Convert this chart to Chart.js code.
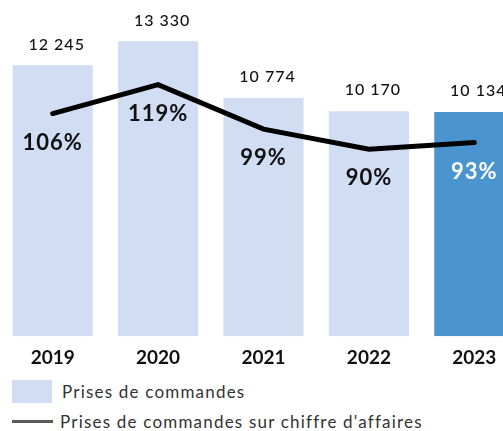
<!DOCTYPE html>
<html lang="fr">
<head>
    <meta charset="UTF-8">
    <title>Prises de commandes</title>
    <script src="https://cdn.jsdelivr.net/npm/chart.js@4.4.0/dist/chart.umd.min.js"></script>
    <style>
        body {
            margin: 0;
            padding: 0;
            width: 503px;
            height: 431px;
            overflow: hidden;
            background: #fff;
            font-family: 'Lato', 'Open Sans', sans-serif;
            position: relative;
        }
        #chart {
            position: absolute;
            left: 0;
            top: 0;
        }
        .legend-row {
            position: absolute;
            left: 12px;
            display: flex;
            align-items: center;
            font-size: 17px;
            letter-spacing: 1.2px;
            color: #333;
        }
        .swatch-bar {
            width: 40px;
            height: 23px;
            background: #d0ddf3;
            margin-right: 10px;
        }
        .swatch-line {
            width: 41px;
            height: 3px;
            background: #5a5a5a;
            margin-right: 7px;
        }
    </style>
</head>
<body>
    <canvas id="chart" width="527" height="379"></canvas>
    <div class="legend-row" style="top: 380px;"><span class="swatch-bar"></span>Prises de commandes</div>
    <div class="legend-row" style="top: 411px;"><span class="swatch-line"></span>Prises de commandes sur chiffre d'affaires</div>

    <script>
        // data
        const years = ['2019', '2020', '2021', '2022', '2023'];
        const orders = [12245, 13330, 10774, 10170, 10134];
        const ratio = [106, 119, 99, 90, 93];
        const barColors = ['#d0ddf3', '#d0ddf3', '#d0ddf3', '#d0ddf3', '#4a94d0'];
        const ratioColors = ['#111', '#111', '#111', '#111', '#fff'];

        // thousands with a space, french style
        function fmt(n) {
            return String(n).replace(/\B(?=(\d{3})+(?!\d))/g, ' ');
        }

        // draws the numbers above the bars and the % under the line
        const valueLabels = {
            id: 'valueLabels',
            afterDatasetsDraw(chart) {
                const ctx = chart.ctx;
                const bars = chart.getDatasetMeta(0).data;
                const pts = chart.getDatasetMeta(1).data;
                ctx.save();
                ctx.textAlign = 'center';
                ctx.textBaseline = 'middle';
                ctx.fillStyle = '#111';
                ctx.letterSpacing = '1px';
                ctx.font = '500 16px Lato';
                bars.forEach((bar, i) => {
                    ctx.fillText(fmt(orders[i]), bar.x + 4, bar.y - 21);
                });
                ctx.font = 'bold 22px Lato';
                pts.forEach((pt, i) => {
                    ctx.fillStyle = ratioColors[i];
                    ctx.fillText(ratio[i] + '%', pt.x, pt.y + 29);
                });
                ctx.restore();
            }
        };

        const ctx = document.getElementById('chart').getContext('2d');
        new Chart(ctx, {
            data: {
                labels: years,
                datasets: [{
                    type: 'bar',
                    label: 'Prises de commandes',
                    data: orders,
                    backgroundColor: barColors,
                    borderWidth: 0,
                    yAxisID: 'y',
                    order: 2,
                    barPercentage: 0.76,
                    categoryPercentage: 1
                }, {
                    type: 'line',
                    label: "Prises de commandes sur chiffre d'affaires",
                    data: ratio,
                    borderColor: '#000',
                    borderWidth: 5,
                    pointRadius: 0,
                    borderCapStyle: 'round',
                    tension: 0,
                    yAxisID: 'y2',
                    order: 1
                }]
            },
            options: {
                responsive: false,
                animation: false,
                layout: { padding: 0 },
                plugins: {
                    legend: { display: false },
                    tooltip: { enabled: false }
                },
                scales: {
                    x: {
                        grid: { display: false, drawTicks: false },
                        border: { display: false },
                        ticks: {
                            padding: 10,
                            color: '#111',
                            font: { family: 'Lato', size: 19, weight: 'bold' }
                        }
                    },
                    y: {
                        display: false,
                        min: 0,
                        max: 15200
                    },
                    y2: {
                        display: false,
                        min: 6,
                        max: 157
                    }
                }
            },
            plugins: [valueLabels]
        });
    </script>
</body>
</html>
